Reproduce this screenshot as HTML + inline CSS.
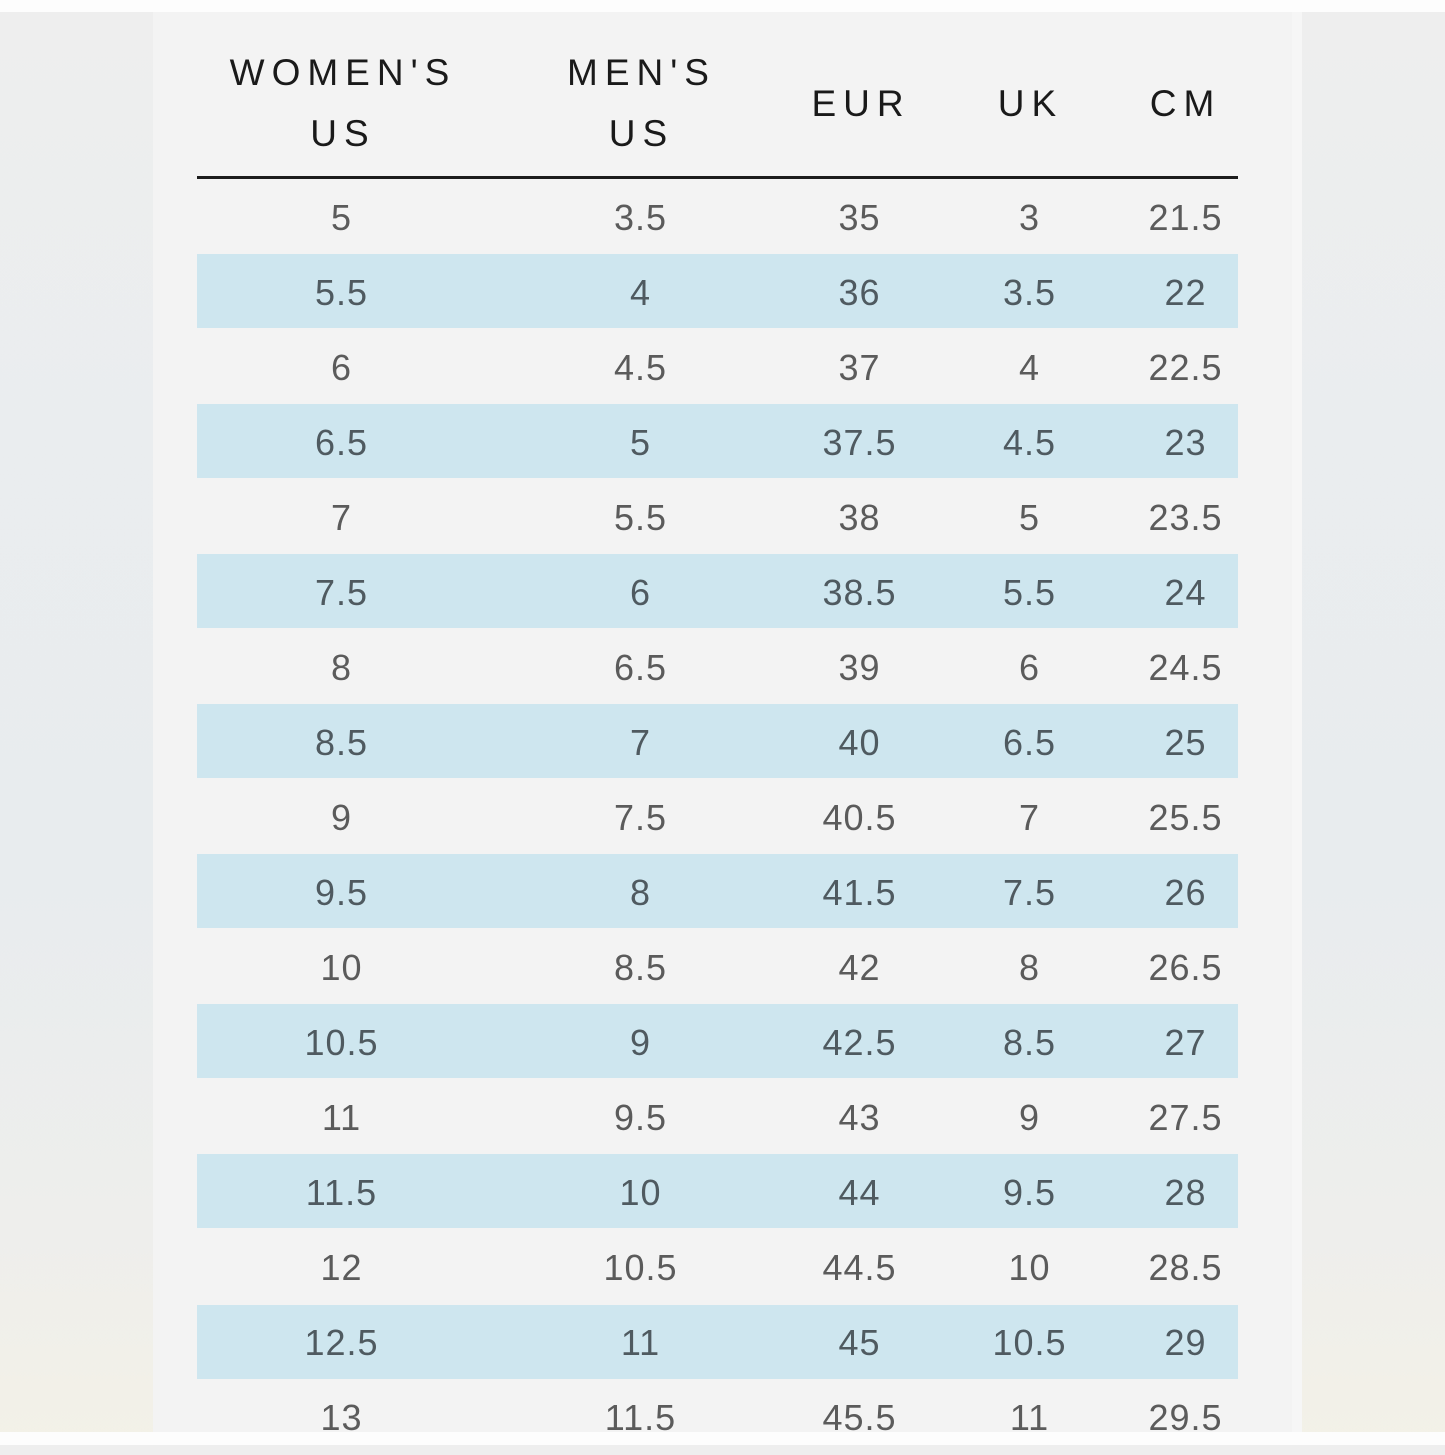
<!DOCTYPE html>
<html>
<head>
<meta charset="utf-8">
<style>
  html, body { margin:0; padding:0; }
  body { width:1445px; height:1445px; position:relative; overflow:hidden;
    background: linear-gradient(180deg, #eeeeee 0%, #eaedef 30%, #e8ecee 60%, #eeeeec 85%, #f3f1e7 100%);
    font-family: "Liberation Sans", Arial, sans-serif; }
  .topw { position:absolute; left:0; top:0; width:1445px; height:12px; background:#fdfdfd; }
  .botw { position:absolute; left:0; top:1432px; width:1445px; height:13px; background:#fdfdfd; }
  .panel { position:absolute; left:153px; top:12px; width:1139px; height:1420px; background:#f3f3f3; }
  .strip { position:absolute; left:1292px; top:12px; width:10px; height:1420px; background:#f6f6f6; }
  .hline { position:absolute; left:197px; top:176px; width:1041px; height:3px; background:#1c1c1c; }
  .blue { position:absolute; left:197px; width:1041px; height:74px; background:#cee6ef; }
  .h { position:absolute; width:300px; height:40px; line-height:40px; text-align:center;
       font-size:37px; letter-spacing:7px; padding-left:7px; box-sizing:border-box; color:#1a1a1a; white-space:nowrap; }
  .n { position:absolute; width:240px; height:75px; line-height:75px; text-align:center;
       font-size:36px; letter-spacing:1px; padding-left:1px; box-sizing:border-box; color:#5b5b5b; white-space:nowrap; }
  .n.b { color:#4f5a60; }
</style>
</head>
<body>
<div class="topw"></div>
<div class="panel"></div>
<div class="strip"></div>

<div class="h" style="left:189.5px; top:53px;">WOMEN'S</div>
<div class="h" style="left:189.5px; top:114px;">US</div>
<div class="h" style="left:488px; top:53px;">MEN'S</div>
<div class="h" style="left:488px; top:114px;">US</div>
<div class="h" style="left:707.5px; top:84px;">EUR</div>
<div class="h" style="left:877px; top:84px;">UK</div>
<div class="h" style="left:1032px; top:84px;">CM</div>

<div class="hline"></div>

<div class="blue" style="top:254px;"></div>
<div class="blue" style="top:404px;"></div>
<div class="blue" style="top:554px;"></div>
<div class="blue" style="top:704px;"></div>
<div class="blue" style="top:854px;"></div>
<div class="blue" style="top:1004px;"></div>
<div class="blue" style="top:1154px;"></div>
<div class="blue" style="top:1305px;"></div>

<!-- rows -->
<div class="n" style="left:221px; top:180px;">5</div><div class="n" style="left:520px; top:180px;">3.5</div><div class="n" style="left:739px; top:180px;">35</div><div class="n" style="left:909px; top:180px;">3</div><div class="n" style="left:1065px; top:180px;">21.5</div>
<div class="n b" style="left:221px; top:255px;">5.5</div><div class="n b" style="left:520px; top:255px;">4</div><div class="n b" style="left:739px; top:255px;">36</div><div class="n b" style="left:909px; top:255px;">3.5</div><div class="n b" style="left:1065px; top:255px;">22</div>
<div class="n" style="left:221px; top:330px;">6</div><div class="n" style="left:520px; top:330px;">4.5</div><div class="n" style="left:739px; top:330px;">37</div><div class="n" style="left:909px; top:330px;">4</div><div class="n" style="left:1065px; top:330px;">22.5</div>
<div class="n b" style="left:221px; top:405px;">6.5</div><div class="n b" style="left:520px; top:405px;">5</div><div class="n b" style="left:739px; top:405px;">37.5</div><div class="n b" style="left:909px; top:405px;">4.5</div><div class="n b" style="left:1065px; top:405px;">23</div>
<div class="n" style="left:221px; top:480px;">7</div><div class="n" style="left:520px; top:480px;">5.5</div><div class="n" style="left:739px; top:480px;">38</div><div class="n" style="left:909px; top:480px;">5</div><div class="n" style="left:1065px; top:480px;">23.5</div>
<div class="n b" style="left:221px; top:555px;">7.5</div><div class="n b" style="left:520px; top:555px;">6</div><div class="n b" style="left:739px; top:555px;">38.5</div><div class="n b" style="left:909px; top:555px;">5.5</div><div class="n b" style="left:1065px; top:555px;">24</div>
<div class="n" style="left:221px; top:630px;">8</div><div class="n" style="left:520px; top:630px;">6.5</div><div class="n" style="left:739px; top:630px;">39</div><div class="n" style="left:909px; top:630px;">6</div><div class="n" style="left:1065px; top:630px;">24.5</div>
<div class="n b" style="left:221px; top:705px;">8.5</div><div class="n b" style="left:520px; top:705px;">7</div><div class="n b" style="left:739px; top:705px;">40</div><div class="n b" style="left:909px; top:705px;">6.5</div><div class="n b" style="left:1065px; top:705px;">25</div>
<div class="n" style="left:221px; top:780px;">9</div><div class="n" style="left:520px; top:780px;">7.5</div><div class="n" style="left:739px; top:780px;">40.5</div><div class="n" style="left:909px; top:780px;">7</div><div class="n" style="left:1065px; top:780px;">25.5</div>
<div class="n b" style="left:221px; top:855px;">9.5</div><div class="n b" style="left:520px; top:855px;">8</div><div class="n b" style="left:739px; top:855px;">41.5</div><div class="n b" style="left:909px; top:855px;">7.5</div><div class="n b" style="left:1065px; top:855px;">26</div>
<div class="n" style="left:221px; top:930px;">10</div><div class="n" style="left:520px; top:930px;">8.5</div><div class="n" style="left:739px; top:930px;">42</div><div class="n" style="left:909px; top:930px;">8</div><div class="n" style="left:1065px; top:930px;">26.5</div>
<div class="n b" style="left:221px; top:1005px;">10.5</div><div class="n b" style="left:520px; top:1005px;">9</div><div class="n b" style="left:739px; top:1005px;">42.5</div><div class="n b" style="left:909px; top:1005px;">8.5</div><div class="n b" style="left:1065px; top:1005px;">27</div>
<div class="n" style="left:221px; top:1080px;">11</div><div class="n" style="left:520px; top:1080px;">9.5</div><div class="n" style="left:739px; top:1080px;">43</div><div class="n" style="left:909px; top:1080px;">9</div><div class="n" style="left:1065px; top:1080px;">27.5</div>
<div class="n b" style="left:221px; top:1155px;">11.5</div><div class="n b" style="left:520px; top:1155px;">10</div><div class="n b" style="left:739px; top:1155px;">44</div><div class="n b" style="left:909px; top:1155px;">9.5</div><div class="n b" style="left:1065px; top:1155px;">28</div>
<div class="n" style="left:221px; top:1230px;">12</div><div class="n" style="left:520px; top:1230px;">10.5</div><div class="n" style="left:739px; top:1230px;">44.5</div><div class="n" style="left:909px; top:1230px;">10</div><div class="n" style="left:1065px; top:1230px;">28.5</div>
<div class="n b" style="left:221px; top:1305px;">12.5</div><div class="n b" style="left:520px; top:1305px;">11</div><div class="n b" style="left:739px; top:1305px;">45</div><div class="n b" style="left:909px; top:1305px;">10.5</div><div class="n b" style="left:1065px; top:1305px;">29</div>
<div class="n" style="left:221px; top:1380px;">13</div><div class="n" style="left:520px; top:1380px;">11.5</div><div class="n" style="left:739px; top:1380px;">45.5</div><div class="n" style="left:909px; top:1380px;">11</div><div class="n" style="left:1065px; top:1380px;">29.5</div>

<div class="botw"></div>
</body>
</html>
